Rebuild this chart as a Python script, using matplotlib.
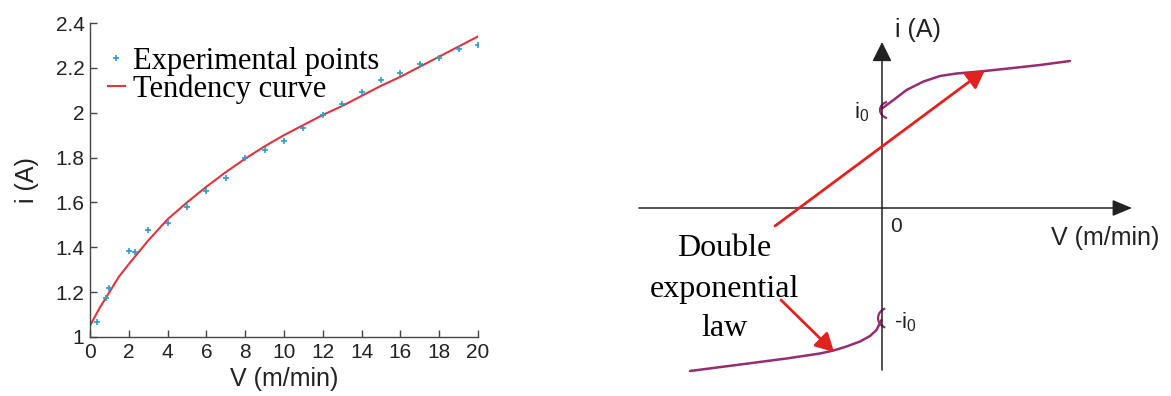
import matplotlib
matplotlib.use("Agg")
import matplotlib.pyplot as plt
from matplotlib.patches import Arc

# ---------------- data: left panel ----------------
V_pts = [0.35, 0.8, 1.0, 2.0, 2.3, 3, 4, 5, 6, 7, 8, 9, 10, 11, 12, 13, 14, 15, 16, 17, 18, 19, 20]
i_pts = [1.065, 1.175, 1.217, 1.382, 1.379, 1.477, 1.508, 1.579, 1.650, 1.710, 1.796, 1.833,
         1.876, 1.930, 1.989, 2.041, 2.093, 2.145, 2.179, 2.216, 2.246, 2.283, 2.304]
V_fit = [0, 0.5, 1, 1.5, 2, 3, 4, 5, 6, 7, 8, 9, 10, 11, 12, 13, 14, 15, 16, 17, 18, 19, 20]
i_fit = [1.05, 1.13, 1.20, 1.27, 1.325, 1.43, 1.525, 1.60, 1.67, 1.735, 1.795, 1.85, 1.90,
         1.945, 1.99, 2.03, 2.075, 2.12, 2.16, 2.205, 2.25, 2.295, 2.34]
x_ticks = [0, 2, 4, 6, 8, 10, 12, 14, 16, 18, 20]
y_ticks = [1, 1.2, 1.4, 1.6, 1.8, 2, 2.2, 2.4]
y_tick_labels = ["1", "1.2", "1.4", "1.6", "1.8", "2", "2.2", "2.4"]

# ---------------- data: right panel (schematic units) ----------------
V_up = [0.0, 0.23, 0.49, 0.83, 1.16, 1.49, 1.96, 2.62, 3.16, 3.76]
i_up = [1.99, 2.16, 2.36, 2.53, 2.64, 2.69, 2.73, 2.80, 2.86, 2.94]
V_low = [-3.84, -2.91, -1.91, -1.24, -0.97, -0.71, -0.44, -0.24, -0.11, -0.01]
i_low = [-3.26, -3.14, -3.01, -2.91, -2.85, -2.77, -2.67, -2.56, -2.44, -2.24]

W, H = 1171, 396
fig = plt.figure(figsize=(W / 100, H / 100), dpi=100)

sans = ["Liberation Sans", "DejaVu Sans"]
serif = ["Liberation Serif", "DejaVu Serif"]

# ---------------- left panel ----------------
ax = fig.add_axes([90 / W, (H - 337) / H, 388 / W, 314 / H])
ax.plot(V_fit, i_fit, color="#e0333c", lw=1.5, label="Tendency curve", zorder=2)
ax.plot(V_pts, i_pts, linestyle="none", marker="+", color="#2e9ccc", ms=5, mew=1.2,
        label="Experimental points", zorder=3)
ax.set_xlim(0, 20)
ax.set_ylim(1, 2.4)
ax.set_xticks(x_ticks)
ax.set_xticklabels([str(t) for t in x_ticks])
ax.set_yticks(y_ticks)
ax.set_yticklabels(y_tick_labels)
for s in ["top", "right"]:
    ax.spines[s].set_visible(False)
for s in ["left", "bottom"]:
    ax.spines[s].set_color("#444444")
    ax.spines[s].set_linewidth(1.0)
ax.tick_params(direction="in", length=5, width=1.0, color="#444444",
               labelsize=15, labelcolor="#222222", pad=4)
for lab in ax.get_xticklabels() + ax.get_yticklabels():
    lab.set_family(sans)
ax.set_xlabel("V (m/min)", fontsize=18, family=sans, color="#222222", labelpad=4)
ax.set_ylabel("i (A)", fontsize=18, family=sans, color="#222222", labelpad=12)

h, l = ax.get_legend_handles_labels()
leg = ax.legend([h[1], h[0]], [l[1], l[0]], loc="upper left",
                bbox_to_anchor=(0.046, 0.925), frameon=False,
                handlelength=0.55, handletextpad=0.28, borderpad=0, borderaxespad=0,
                labelspacing=-0.05, prop={"family": serif, "size": 22})

# ---------------- right panel ----------------
ax2 = fig.add_axes([600 / W, 0, 571 / W, 1])
ax2.set_xlim((600 - 882) / 50, (1171 - 882) / 50)
ax2.set_ylim((208 - 396) / 50, 208 / 50)
ax2.axis("off")

axis_col = "#222222"
ax2.annotate("", xy=(5.0, 0), xytext=(-4.86, 0),
             arrowprops=dict(arrowstyle="-|>,head_length=0.6,head_width=0.25",
                             color=axis_col, lw=1.1, mutation_scale=20,
                             shrinkA=0, shrinkB=0))
ax2.annotate("", xy=(0, 3.32), xytext=(0, -3.24),
             arrowprops=dict(arrowstyle="-|>,head_length=0.6,head_width=0.3",
                             color=axis_col, lw=1.1, mutation_scale=20,
                             shrinkA=0, shrinkB=0))

curve_col = "#962c72"
ax2.plot(V_up, i_up, color=curve_col, lw=1.8, solid_capstyle="round", solid_joinstyle="round")
ax2.plot(V_low, i_low, color=curve_col, lw=1.8, solid_capstyle="round", solid_joinstyle="round")
ax2.add_patch(Arc((0.16, 1.96), 0.4, 0.34, theta1=110, theta2=250, color=curve_col, lw=1.6))
ax2.add_patch(Arc((0.2, -2.2), 0.56, 0.44, theta1=125, theta2=235, color=curve_col, lw=1.6))

red = "#e3211f"
ax2.annotate("", xy=(2.06, 2.76), xytext=(-2.14, -0.36),
             arrowprops=dict(arrowstyle="-|>,head_length=0.55,head_width=0.3",
                             color=red, lw=2.0, mutation_scale=20, shrinkA=0, shrinkB=0))
ax2.annotate("", xy=(-0.96, -2.88), xytext=(-2.02, -1.84),
             arrowprops=dict(arrowstyle="-|>,head_length=0.55,head_width=0.3",
                             color=red, lw=2.0, mutation_scale=20, shrinkA=0, shrinkB=0))

ax2.text(0.72, 3.56, "i (A)", fontsize=18, family=sans, color="#222222",
         ha="center", va="center")
ax2.text(4.46, -0.60, "V (m/min)", fontsize=18, family=sans, color="#222222",
         ha="center", va="center")
ax2.text(0.28, -0.38, "0", fontsize=15, family=sans, color="#222222",
         ha="center", va="center")
ax2.text(-0.40, 1.92, r"i$_\mathregular{0}$", fontsize=16, family=sans, color="#222222",
         ha="center", va="center")
ax2.text(0.46, -2.28, r"-i$_\mathregular{0}$", fontsize=16, family=sans, color="#222222",
         ha="center", va="center")
ax2.text(-3.16, -1.62, "Double\nexponential\nlaw", fontsize=23, family=serif,
         color="black", ha="center", va="center", linespacing=1.5)

fig.savefig("out.png", dpi=100)
